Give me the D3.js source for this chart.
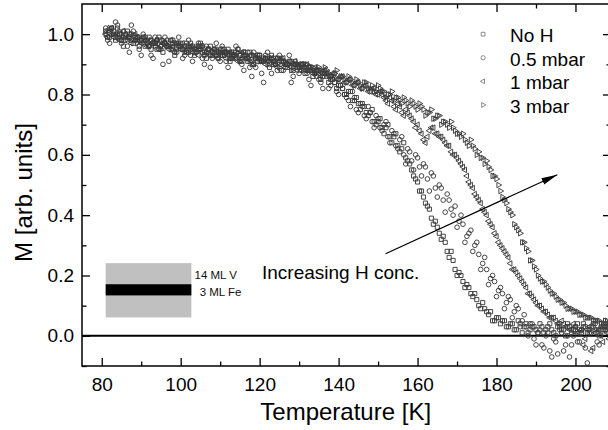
<!DOCTYPE html>
<html>
<head>
<meta charset="utf-8">
<script src="https://cdn.jsdelivr.net/npm/d3@7"></script>
<style>
    html, body { margin: 0; padding: 0; background: #fff; }
    svg { display: block; font-family: "Liberation Sans", Arial, sans-serif; }
</style>
</head>
<body>
<div id="chart"></div>
<script>
// Temperatures (K) - two interleaved measurement grids
const tempsA = [
    81, 82, 83, 84, 85, 86, 87, 88, 89, 90,
    91, 92, 93, 94, 95, 96, 97, 98, 99, 100,
    101, 102, 103, 104, 105, 106, 107, 108, 109, 110,
    111, 112, 113, 114, 115, 116, 117, 118, 119, 120,
    121, 122, 123, 124, 125, 126, 127, 128, 129, 130,
    131, 132, 133, 134, 135, 136, 137, 138, 139, 140,
    141, 142, 143, 144, 145, 146, 147, 148, 149, 150,
    151, 152, 153, 154, 155, 156, 157, 158, 159, 160,
    161, 162, 163, 164, 165, 166, 167, 168, 169, 170,
    171, 172, 173, 174, 175, 176, 177, 178, 179, 180,
    181, 182, 183, 184, 185, 186, 187, 188, 189, 190,
    191, 192, 193, 194, 195, 196, 197, 198, 199, 200,
    201, 202, 203, 204, 205, 206, 207, 208
];
const tempsB = [
    81.5, 82.5, 83.5, 84.5, 85.5, 86.5, 87.5, 88.5, 89.5, 90.5,
    91.5, 92.5, 93.5, 94.5, 95.5, 96.5, 97.5, 98.5, 99.5, 100.5,
    101.5, 102.5, 103.5, 104.5, 105.5, 106.5, 107.5, 108.5, 109.5, 110.5,
    111.5, 112.5, 113.5, 114.5, 115.5, 116.5, 117.5, 118.5, 119.5, 120.5,
    121.5, 122.5, 123.5, 124.5, 125.5, 126.5, 127.5, 128.5, 129.5, 130.5,
    131.5, 132.5, 133.5, 134.5, 135.5, 136.5, 137.5, 138.5, 139.5, 140.5,
    141.5, 142.5, 143.5, 144.5, 145.5, 146.5, 147.5, 148.5, 149.5, 150.5,
    151.5, 152.5, 153.5, 154.5, 155.5, 156.5, 157.5, 158.5, 159.5, 160.5,
    161.5, 162.5, 163.5, 164.5, 165.5, 166.5, 167.5, 168.5, 169.5, 170.5,
    171.5, 172.5, 173.5, 174.5, 175.5, 176.5, 177.5, 178.5, 179.5, 180.5,
    181.5, 182.5, 183.5, 184.5, 185.5, 186.5, 187.5, 188.5, 189.5, 190.5,
    191.5, 192.5, 193.5, 194.5, 195.5, 196.5, 197.5, 198.5, 199.5, 200.5,
    201.5, 202.5, 203.5, 204.5, 205.5, 206.5, 207.5, 208.5
];

// Magnetization (arb. units), No H: on tempsA and tempsB
const mNoH = [
    1.01, 0.99, 1.00, 1.02, 0.98, 0.99, 1.00, 0.97, 0.99, 0.98,
    0.96, 0.99, 0.97, 0.95, 0.98, 0.97, 0.96, 0.98, 0.95, 0.97,
    0.96, 0.94, 0.96, 0.95, 0.97, 0.94, 0.95, 0.93, 0.95, 0.94,
    0.93, 0.95, 0.92, 0.94, 0.93, 0.94, 0.91, 0.93, 0.92, 0.93,
    0.91, 0.92, 0.93, 0.90, 0.92, 0.91, 0.89, 0.91, 0.90, 0.89,
    0.90, 0.88, 0.89, 0.87, 0.88, 0.86, 0.87, 0.85, 0.84, 0.83,
    0.82, 0.80, 0.81, 0.78, 0.77, 0.77, 0.74, 0.74, 0.71, 0.71,
    0.69, 0.69, 0.66, 0.66, 0.63, 0.62, 0.59, 0.57, 0.53, 0.51,
    0.48, 0.44, 0.42, 0.37, 0.36, 0.32, 0.31, 0.26, 0.25, 0.20,
    0.20, 0.16, 0.16, 0.13, 0.12, 0.09, 0.09, 0.07, 0.05, 0.06,
    0.04, 0.05, 0.03, 0.04, 0.02, 0.04, 0.03, 0.01, 0.03, 0.02,
    0.04, 0.01, 0.03, 0.02, 0.00, 0.03, 0.02, 0.04, 0.01, 0.03,
    0.02, 0.04, 0.01, 0.03, 0.02, 0.00, 0.03, 0.02
];
const mNoH2 = [
    0.99, 1.02, 0.98, 1.00, 0.96, 1.01, 0.98, 0.99, 0.96, 0.99,
    0.98, 0.95, 0.97, 0.99, 0.94, 0.96, 0.98, 0.93, 0.97, 0.95,
    0.94, 0.97, 0.93, 0.96, 0.94, 0.92, 0.96, 0.94, 0.92, 0.95,
    0.94, 0.91, 0.93, 0.95, 0.91, 0.92, 0.94, 0.90, 0.93, 0.91,
    0.92, 0.89, 0.91, 0.92, 0.88, 0.90, 0.91, 0.88, 0.89, 0.90,
    0.87, 0.89, 0.86, 0.88, 0.85, 0.87, 0.84, 0.85, 0.82, 0.83,
    0.80, 0.81, 0.78, 0.79, 0.75, 0.76, 0.73, 0.75, 0.70, 0.72,
    0.67, 0.70, 0.64, 0.67, 0.61, 0.64, 0.58, 0.55, 0.52, 0.48,
    0.46, 0.43, 0.39, 0.38, 0.34, 0.33, 0.28, 0.28, 0.22, 0.21,
    0.18, 0.17, 0.14, 0.14, 0.10, 0.11, 0.08, 0.08, 0.05, 0.06,
    0.05, 0.03, 0.04, 0.02, 0.05, 0.01, 0.04, 0.02, 0.03, 0.01,
    0.03, 0.02, 0.04, 0.01, 0.03, 0.02, 0.00, 0.03, 0.02, 0.04,
    0.01, 0.03, 0.02, 0.04, 0.01, 0.03, 0.02, 0.03
];

// 0.5 mbar: on tempsB and tempsA
const m05mbar = [
    0.98, 1.02, 1.04, 0.99, 1.01, 0.96, 1.03, 0.98, 0.95, 1.00,
    0.97, 0.93, 0.99, 0.95, 0.90, 0.98, 0.96, 0.94, 0.99, 0.92,
    0.97, 0.93, 0.95, 0.97, 0.92, 0.96, 0.89, 0.95, 0.93, 0.96,
    0.91, 0.94, 0.92, 0.95, 0.90, 0.93, 0.89, 0.94, 0.91, 0.87,
    0.93, 0.90, 0.92, 0.88, 0.91, 0.89, 0.93, 0.86, 0.90, 0.88,
    0.89, 0.85, 0.88, 0.86, 0.84, 0.87, 0.82, 0.85, 0.81, 0.83,
    0.80, 0.78, 0.81, 0.75, 0.77, 0.73, 0.76, 0.71, 0.73, 0.69,
    0.70, 0.66, 0.68, 0.63, 0.65, 0.60, 0.62, 0.58, 0.60, 0.56,
    0.57, 0.52, 0.54, 0.49, 0.50, 0.45, 0.47, 0.42, 0.43, 0.38,
    0.37, 0.33, 0.35, 0.30, 0.27, 0.24, 0.22, 0.19, 0.18, 0.15,
    0.14, 0.11, 0.12, 0.08, 0.09, 0.05, 0.03, 0.04, -0.01, 0.01,
    -0.03, 0.00, -0.05, -0.01, -0.06, 0.01, -0.03, -0.07, 0.00, -0.02,
    0.02, -0.04, 0.01, 0.03, -0.02, 0.02, 0.04, 0.01
];
const m05mbar2 = [
    1.02, 0.97, 1.01, 1.03, 0.97, 1.00, 0.94, 1.01, 0.98, 0.93,
    0.99, 0.96, 0.92, 0.98, 0.95, 0.99, 0.91, 0.97, 0.94, 0.96,
    0.93, 0.98, 0.91, 0.94, 0.96, 0.90, 0.95, 0.92, 0.97, 0.91,
    0.95, 0.89, 0.93, 0.96, 0.91, 0.88, 0.94, 0.86, 0.89, 0.93,
    0.84, 0.94, 0.87, 0.91, 0.93, 0.88, 0.90, 0.84, 0.91, 0.87,
    0.90, 0.87, 0.83, 0.88, 0.85, 0.82, 0.86, 0.83, 0.84, 0.80,
    0.82, 0.79, 0.76, 0.79, 0.74, 0.76, 0.72, 0.74, 0.69, 0.72,
    0.68, 0.71, 0.64, 0.67, 0.62, 0.66, 0.57, 0.61, 0.55, 0.59,
    0.53, 0.56, 0.48, 0.53, 0.46, 0.49, 0.41, 0.45, 0.40, 0.36,
    0.40, 0.31, 0.34, 0.28, 0.31, 0.22, 0.26, 0.17, 0.20, 0.13,
    0.16, 0.09, 0.13, 0.06, 0.10, 0.03, 0.07, 0.00, 0.04, -0.03,
    0.02, -0.04, 0.01, -0.07, -0.02, 0.02, -0.05, 0.00, -0.03, 0.02,
    -0.02, 0.03, -0.09, 0.01, 0.04, -0.03, 0.02, 0.03
];

// 1 mbar: on tempsA and tempsB
const m1mbar = [
    1.00, 1.01, 0.99, 1.00, 0.98, 1.00, 0.99, 0.98, 0.99, 0.97,
    0.98, 0.96, 0.97, 0.98, 0.96, 0.97, 0.95, 0.96, 0.97, 0.95,
    0.96, 0.95, 0.94, 0.96, 0.95, 0.93, 0.95, 0.94, 0.93, 0.95,
    0.94, 0.93, 0.94, 0.92, 0.93, 0.94, 0.92, 0.91, 0.93, 0.92,
    0.92, 0.91, 0.92, 0.90, 0.91, 0.92, 0.90, 0.89, 0.91, 0.90,
    0.89, 0.90, 0.88, 0.89, 0.87, 0.88, 0.87, 0.86, 0.87, 0.85,
    0.86, 0.84, 0.85, 0.83, 0.84, 0.82, 0.83, 0.81, 0.82, 0.80,
    0.80, 0.78, 0.79, 0.76, 0.77, 0.74, 0.75, 0.73, 0.71, 0.70,
    0.67, 0.64, 0.68, 0.69, 0.67, 0.66, 0.64, 0.63, 0.60, 0.59,
    0.57, 0.55, 0.51, 0.49, 0.46, 0.44, 0.41, 0.38, 0.36, 0.33,
    0.30, 0.28, 0.26, 0.22, 0.21, 0.19, 0.17, 0.14, 0.13, 0.11,
    0.10, 0.08, 0.07, 0.06, 0.05, 0.04, 0.04, 0.03, 0.02, 0.03,
    0.01, -0.03, 0.02, -0.05, 0.01, 0.02, -0.02, 0.01
];
const m1mbar2 = [
    0.99, 1.02, 1.00, 0.98, 1.01, 0.99, 0.97, 1.00, 0.98, 0.99,
    0.96, 0.98, 0.97, 0.95, 0.97, 0.96, 0.98, 0.94, 0.96, 0.97,
    0.94, 0.96, 0.95, 0.93, 0.96, 0.94, 0.93, 0.95, 0.92, 0.94,
    0.92, 0.94, 0.93, 0.91, 0.94, 0.92, 0.93, 0.90, 0.92, 0.91,
    0.90, 0.92, 0.91, 0.89, 0.92, 0.90, 0.91, 0.90, 0.88, 0.90,
    0.88, 0.89, 0.87, 0.88, 0.86, 0.88, 0.86, 0.87, 0.85, 0.86,
    0.84, 0.85, 0.83, 0.84, 0.82, 0.83, 0.81, 0.82, 0.80, 0.81,
    0.79, 0.77, 0.78, 0.75, 0.76, 0.73, 0.74, 0.72, 0.69, 0.68,
    0.65, 0.66, 0.69, 0.67, 0.66, 0.65, 0.63, 0.61, 0.60, 0.58,
    0.56, 0.53, 0.50, 0.47, 0.45, 0.42, 0.40, 0.37, 0.34, 0.31,
    0.29, 0.27, 0.24, 0.22, 0.20, 0.18, 0.16, 0.14, 0.12, 0.10,
    0.09, 0.08, 0.06, 0.06, 0.04, 0.05, 0.03, 0.02, 0.04, 0.01,
    0.02, -0.01, 0.03, -0.04, 0.02, 0.00, 0.03, -0.01
];

// 3 mbar: on tempsB and tempsA
const m3mbar = [
    1.01, 1.00, 0.99, 1.01, 0.99, 0.98, 1.00, 0.98, 0.99, 0.97,
    0.97, 0.98, 0.96, 0.97, 0.98, 0.96, 0.95, 0.97, 0.96, 0.95,
    0.95, 0.96, 0.94, 0.95, 0.96, 0.94, 0.93, 0.95, 0.94, 0.93,
    0.94, 0.92, 0.93, 0.94, 0.92, 0.93, 0.91, 0.93, 0.92, 0.91,
    0.92, 0.91, 0.90, 0.92, 0.90, 0.91, 0.90, 0.89, 0.90, 0.89,
    0.90, 0.88, 0.89, 0.87, 0.88, 0.89, 0.87, 0.86, 0.88, 0.86,
    0.85, 0.86, 0.84, 0.85, 0.83, 0.84, 0.82, 0.83, 0.81, 0.82,
    0.81, 0.80, 0.81, 0.79, 0.78, 0.79, 0.77, 0.78, 0.76, 0.77,
    0.75, 0.74, 0.75, 0.72, 0.73, 0.71, 0.70, 0.71, 0.68, 0.67,
    0.67, 0.64, 0.65, 0.62, 0.61, 0.59, 0.58, 0.55, 0.53, 0.50,
    0.46, 0.44, 0.41, 0.37, 0.35, 0.31, 0.29, 0.25, 0.23, 0.20,
    0.18, 0.17, 0.15, 0.14, 0.12, 0.11, 0.10, 0.09, 0.08, 0.08,
    0.07, 0.06, 0.06, 0.05, 0.05, 0.04, 0.05, 0.04
];
const m3mbar2 = [
    1.00, 1.02, 1.00, 0.99, 1.00, 0.98, 0.99, 1.00, 0.97, 0.98,
    0.98, 0.96, 0.97, 0.98, 0.96, 0.97, 0.96, 0.95, 0.97, 0.96,
    0.94, 0.96, 0.95, 0.94, 0.95, 0.93, 0.95, 0.94, 0.93, 0.94,
    0.93, 0.94, 0.92, 0.93, 0.91, 0.93, 0.92, 0.90, 0.92, 0.91,
    0.91, 0.90, 0.92, 0.90, 0.89, 0.91, 0.90, 0.88, 0.90, 0.89,
    0.88, 0.90, 0.88, 0.87, 0.89, 0.87, 0.88, 0.86, 0.87, 0.85,
    0.86, 0.84, 0.85, 0.83, 0.84, 0.82, 0.84, 0.82, 0.81, 0.83,
    0.81, 0.79, 0.80, 0.78, 0.79, 0.77, 0.78, 0.76, 0.77, 0.75,
    0.76, 0.73, 0.74, 0.72, 0.73, 0.70, 0.71, 0.69, 0.69, 0.67,
    0.66, 0.65, 0.63, 0.63, 0.60, 0.59, 0.57, 0.56, 0.53, 0.52,
    0.48, 0.45, 0.42, 0.40, 0.36, 0.34, 0.31, 0.28, 0.25, 0.22,
    0.19, 0.18, 0.16, 0.14, 0.13, 0.12, 0.11, 0.09, 0.09, 0.08,
    0.07, 0.07, 0.06, 0.06, 0.05, 0.05, 0.04, 0.05
];

const seriesNames = ['No H', '0.5 mbar', '1 mbar', '3 mbar'];
const xTicks = [80, 100, 120, 140, 160, 180, 200];
const xMinorTicks = [90, 110, 130, 150, 170, 190];
const yTicks = [0.0, 0.2, 0.4, 0.6, 0.8, 1.0];
const yMinorTicks = [-0.1, 0.1, 0.3, 0.5, 0.7, 0.9];

const W = 608, H = 430;
const margin = { top: 4, right: -3, bottom: 64, left: 82 };
const width = W - margin.left - margin.right;
const height = H - margin.top - margin.bottom;

const svg = d3.select('#chart').append('svg')
    .attr('width', W)
    .attr('height', H);

const g = svg.append('g')
    .attr('transform', `translate(${margin.left},${margin.top})`);

// Scales
const x = d3.scaleLinear().domain([75, 209]).range([0, width]);
const y = d3.scaleLinear().domain([-0.1, 1.1]).range([height, 0]);

const series = [
    { name: seriesNames[0], parts: [[tempsA, mNoH], [tempsB, mNoH2]], type: d3.symbolSquare, size: 17, rot: 0 },
    { name: seriesNames[1], parts: [[tempsB, m05mbar], [tempsA, m05mbar2]], type: d3.symbolCircle, size: 17, rot: 0 },
    { name: seriesNames[2], parts: [[tempsA, m1mbar], [tempsB, m1mbar2]], type: d3.symbolTriangle, size: 13, rot: -90 },
    { name: seriesNames[3], parts: [[tempsB, m3mbar], [tempsA, m3mbar2]], type: d3.symbolTriangle, size: 13, rot: 90 }
];

g.append('clipPath').attr('id', 'plotClip')
    .append('rect').attr('width', width).attr('height', height);

// Inset: layer sketch (gray V, black Fe)
const inset = g.append('g');
inset.append('rect')
    .attr('x', x(81)).attr('y', y(0.241))
    .attr('width', x(102.7) - x(81)).attr('height', y(0.061) - y(0.241))
    .attr('fill', '#c0c0c0');
inset.append('rect')
    .attr('x', x(81)).attr('y', y(0.171))
    .attr('width', x(102.7) - x(81)).attr('height', y(0.134) - y(0.171))
    .attr('fill', '#000');
inset.append('text')
    .attr('x', x(103.5)).attr('y', y(0.19))
    .style('font-size', '11.5px').attr('fill', '#111').text('14 ML V');
inset.append('text')
    .attr('x', x(104.8)).attr('y', y(0.131))
    .style('font-size', '11.5px').attr('fill', '#111').text('3 ML Fe');

// Zero line
g.append('line')
    .attr('x1', 0).attr('x2', width)
    .attr('y1', y(0)).attr('y2', y(0))
    .attr('stroke', '#000').attr('stroke-width', 2);

// Data points
const pts = g.append('g').attr('clip-path', 'url(#plotClip)');
series.forEach(s => {
    const sym = d3.symbol().type(s.type).size(s.size);
    const data = s.parts.flatMap(([temps, vals]) => temps.map((t, i) => ({ t, m: vals[i] })));
    pts.append('g').selectAll('path')
        .data(data)
        .enter().append('path')
        .attr('d', sym)
        .attr('transform', d => `translate(${x(d.t)},${y(d.m)}) rotate(${s.rot})`)
        .attr('fill', 'none')
        .attr('stroke', '#3c3c3c')
        .attr('stroke-width', 0.95);
});

// Axes (ticks inward, mirrored on top/right)
function styleAxis(sel) {
    sel.select('.domain').remove();
    sel.selectAll('.tick line').attr('stroke', '#000').attr('stroke-width', 1.3);
    sel.selectAll('.tick text').attr('fill', '#000').style('font-size', '19px')
        .style('font-family', '"Liberation Sans", Arial, sans-serif');
}

g.append('g').attr('transform', `translate(0,${height})`)
    .call(d3.axisBottom(x).tickValues(xTicks).tickSizeInner(-8).tickSizeOuter(0).tickPadding(11.5).tickFormat(d3.format('d')))
    .call(styleAxis);
g.append('g').attr('transform', `translate(0,${height})`)
    .call(d3.axisBottom(x).tickValues(xMinorTicks).tickSizeInner(-4.5).tickSizeOuter(0).tickFormat(''))
    .call(styleAxis);
g.append('g')
    .call(d3.axisTop(x).tickValues(xTicks).tickSizeInner(-8).tickSizeOuter(0).tickFormat(''))
    .call(styleAxis);
g.append('g')
    .call(d3.axisTop(x).tickValues(xMinorTicks).tickSizeInner(-4.5).tickSizeOuter(0).tickFormat(''))
    .call(styleAxis);

g.append('g')
    .call(d3.axisLeft(y).tickValues(yTicks).tickSizeInner(-8).tickSizeOuter(0).tickPadding(8).tickFormat(d3.format('.1f')))
    .call(styleAxis);
g.append('g')
    .call(d3.axisLeft(y).tickValues(yMinorTicks).tickSizeInner(-4.5).tickSizeOuter(0).tickFormat(''))
    .call(styleAxis);
g.append('g').attr('transform', `translate(${width},0)`)
    .call(d3.axisRight(y).tickValues(yTicks).tickSizeInner(-8).tickSizeOuter(0).tickFormat(''))
    .call(styleAxis);
g.append('g').attr('transform', `translate(${width},0)`)
    .call(d3.axisRight(y).tickValues(yMinorTicks).tickSizeInner(-4.5).tickSizeOuter(0).tickFormat(''))
    .call(styleAxis);

// Frame
g.append('rect')
    .attr('width', width).attr('height', height)
    .attr('fill', 'none').attr('stroke', '#000').attr('stroke-width', 1.5);

// Axis titles
g.append('text')
    .attr('x', x(141.8)).attr('y', height + 54)
    .attr('text-anchor', 'middle')
    .style('font-size', '24px').text('Temperature [K]');

svg.append('text')
    .attr('transform', `translate(32,${margin.top + y(0.475)}) rotate(-90)`)
    .attr('text-anchor', 'middle')
    .style('font-size', '24px').text('M [arb. units]');

// Arrow annotation
svg.append('defs').append('marker')
    .attr('id', 'arrowHead')
    .attr('viewBox', '0 0 16 8')
    .attr('refX', 16).attr('refY', 4)
    .attr('markerWidth', 16).attr('markerHeight', 8)
    .attr('markerUnits', 'userSpaceOnUse')
    .attr('orient', 'auto')
    .append('path').attr('d', 'M0,0.5 L16,4 L0,7.5 Z').attr('fill', '#000');

g.append('line')
    .attr('x1', x(151.9)).attr('y1', y(0.272))
    .attr('x2', x(195.4)).attr('y2', y(0.534))
    .attr('stroke', '#000').attr('stroke-width', 1.2)
    .attr('marker-end', 'url(#arrowHead)');

g.append('text')
    .attr('x', x(120.6)).attr('y', y(0.188))
    .style('font-size', '19px').text('Increasing H conc.');

// Legend
const legend = g.append('g');
series.forEach((s, i) => {
    const row = legend.append('g')
        .attr('transform', `translate(${x(176.6)},${y(1.0) + i * 23.6})`);
    row.append('path')
        .attr('d', d3.symbol().type(s.type).size(s.size - 3))
        .attr('transform', `rotate(${s.rot})`)
        .attr('fill', 'none').attr('stroke', '#707070').attr('stroke-width', 0.8);
    row.append('text')
        .attr('x', 27).attr('y', 7.8)
        .style('font-size', '19px').text(s.name);
});
</script>
</body>
</html>
